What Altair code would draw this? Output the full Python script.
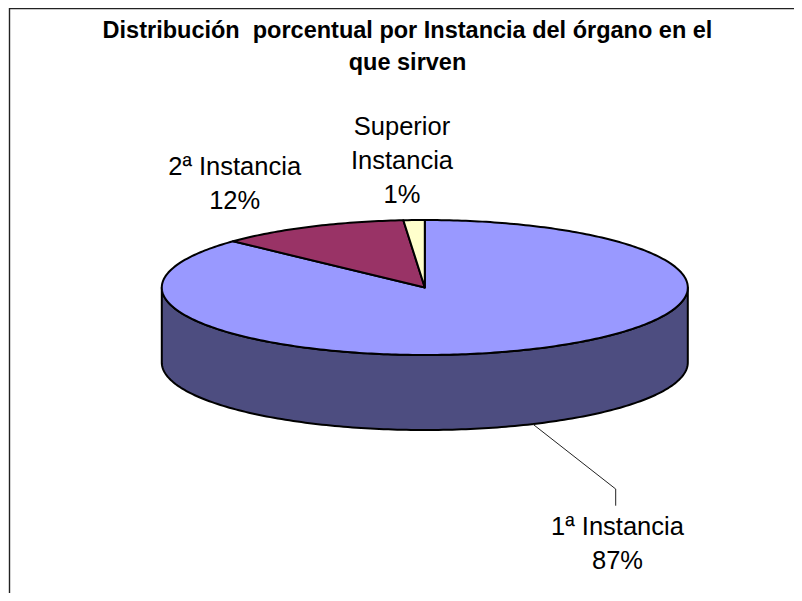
import math
import altair as alt
import pandas as pd

# --- data ---
categories = ["1ª Instancia", "2ª Instancia", "Superior Instancia"]
shares = [87.0, 11.7, 1.3]
shown_pct = ["87%", "12%", "1%"]
top_colors = ["#9999FF", "#993366", "#FFFFCC"]
side_color = "#4D4D80"
title_lines = ["Distribución\u00a0 porcentual por Instancia del órgano en el", "que sirven"]

# --- page layout (pixels inside the chart) ---
OFF = 8
W, H = 786, 585
CX, CY, RX, RY, DEPTH = 424.8 - OFF, 287.5 - OFF, 263, 67.5, 75


def ell(turn, dy=0):
    a = 2 * math.pi * turn
    return [CX + RX * math.sin(a), CY + dy - RY * math.cos(a)]


def feature(coords, color):
    return {"type": "Feature", "properties": {"color": color},
            "geometry": {"type": "Polygon", "coordinates": [coords + [coords[0]]]}}


features = []
# side wall (front half, from 3 o'clock to 9 o'clock)
steps = 180
front = [0.25 + 0.5 * i / steps for i in range(steps + 1)]
wall = [ell(t) for t in front] + [ell(t, DEPTH) for t in reversed(front)]
features.append(feature(wall, side_color))
# top slices, clockwise from 12 o'clock
start = 0.0
for share, color in zip(shares, top_colors):
    n = max(2, int(share * 4))
    arc = [ell(start + share / 100 * i / n) for i in range(n + 1)]
    features.append(feature([[CX, CY]] + arc, color))
    start += share / 100

pie = alt.Chart(alt.InlineData(
    values={"type": "FeatureCollection", "features": features},
    format=alt.DataFormat(property="features", type="json"),
)).mark_geoshape(stroke="black", strokeWidth=2, strokeJoin="round").encode(
    fill=alt.Fill("properties.color:N", scale=None),
).project(type="identity", scale=1, translate=[0, 0], reflectY=False)

title_df = pd.DataFrame({"t": title_lines, "x": [407.5 - OFF] * 2, "y": [38 - OFF, 70 - OFF]})
title = alt.Chart(title_df).mark_text(
    font="Liberation Sans", fontSize=23.5, fontWeight="bold", color="black", baseline="alphabetic", align="center"
).encode(x=alt.X("x:Q", scale=None, axis=None), y=alt.Y("y:Q", scale=None, axis=None), text="t:N")

label_df = pd.DataFrame({
    "t": ["Superior", "Instancia", shown_pct[2], categories[1], shown_pct[1], categories[0], shown_pct[0]],
    "x": [v - OFF for v in [402, 402, 402, 234.7, 234.7, 617.5, 617.5]],
    "y": [v - OFF for v in [135, 169, 203, 175, 209, 535, 569]],
})
labels = alt.Chart(label_df).mark_text(
    font="Liberation Sans", fontSize=25.5, color="black", baseline="alphabetic", align="center"
).encode(x=alt.X("x:Q", scale=None, axis=None), y=alt.Y("y:Q", scale=None, axis=None), text="t:N")

leader_df = pd.DataFrame({"x": [v - OFF for v in [532.7, 615.7, 615.7]],
                          "y": [v - OFF for v in [424, 489, 505.7]], "o": [0, 1, 2]})
leader = alt.Chart(leader_df).mark_line(color="#222222", strokeWidth=1).encode(
    x=alt.X("x:Q", scale=None, axis=None), y=alt.Y("y:Q", scale=None, axis=None), order="o:Q")

border_df = pd.DataFrame({"x": [W, 1.5, 1.5], "y": [0.6, 0.6, H], "o": [0, 1, 2]})
border = alt.Chart(border_df).mark_line(color="#222222", strokeWidth=1.4, clip=False).encode(
    x=alt.X("x:Q", scale=None, axis=None), y=alt.Y("y:Q", scale=None, axis=None), order="o:Q")

chart = alt.layer(pie, border, leader, title, labels).resolve_scale(
    x="independent", y="independent"
).properties(
    width=W, height=H, padding=0, autosize=alt.AutoSizeParams(type="none"), background="white"
).configure_view(stroke=None)

chart.save("out.html", embed_options={"renderer": "svg", "actions": False})
